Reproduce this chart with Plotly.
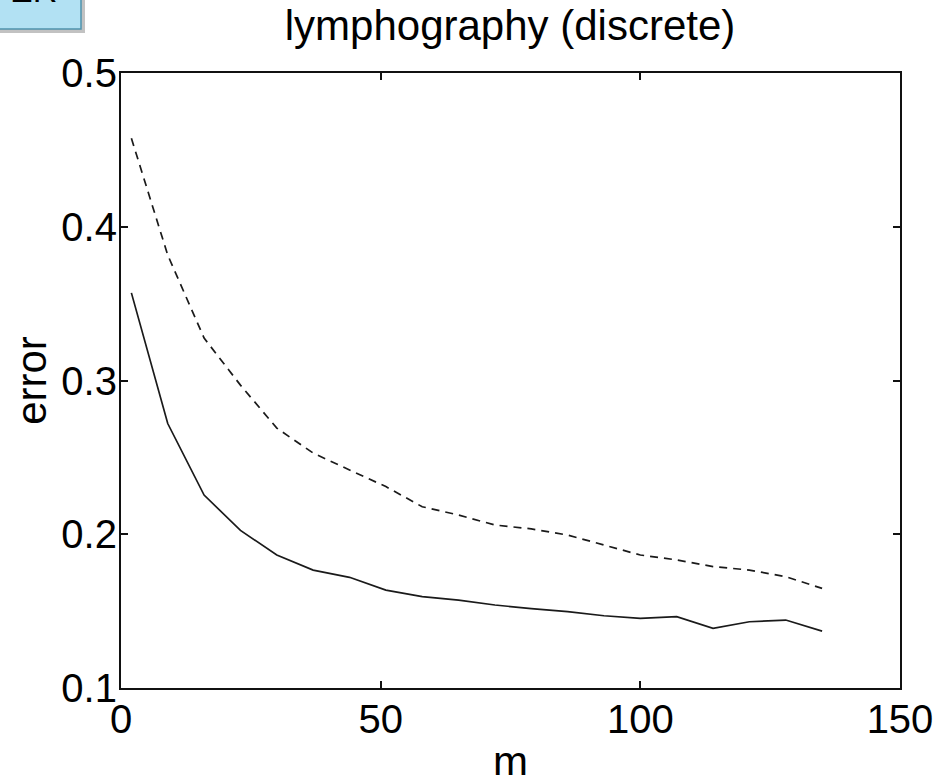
import plotly.graph_objects as go

m_values = [2, 9, 16, 23, 30, 37, 44, 51, 58, 65, 72, 79, 86, 93, 100, 107, 114, 121, 128, 135]
error_solid = [0.357, 0.272, 0.2255, 0.2025, 0.1865, 0.1767, 0.172, 0.1637, 0.1594, 0.1572,
               0.154, 0.1516, 0.1497, 0.147, 0.1453, 0.1464, 0.1388, 0.1431, 0.1442, 0.137]
error_dashed = [0.4575, 0.3816, 0.3276, 0.297, 0.269, 0.2528, 0.2418, 0.231, 0.2179, 0.2125,
                0.206, 0.2035, 0.1995, 0.193, 0.1865, 0.1833, 0.179, 0.1767, 0.1724, 0.1648]
title_text = "lymphography (discrete)"
x_title = "m"
y_title = "error"
x_ticks = [0, 50, 100, 150]
y_ticks = [0.1, 0.2, 0.3, 0.4, 0.5]

FONT = "Liberation Sans, Arial, Helvetica, sans-serif"

fig = go.Figure()
fig.add_trace(go.Scatter(x=m_values, y=error_dashed, mode="lines",
                         line=dict(color="#1a1a1a", width=1.7, dash="8px,6px"),
                         showlegend=False))
fig.add_trace(go.Scatter(x=m_values, y=error_solid, mode="lines",
                         line=dict(color="#1a1a1a", width=1.7),
                         showlegend=False))

W, H = 949, 775
L, R, T, B = 121, 900, 73, 688

def px(x):
    return (x - L) / (R - L)

def py(y):
    return (B - y) / (B - T)

axis_common = dict(showline=True, linecolor="#111", linewidth=2.2, mirror="ticks",
                   ticks="inside", ticklen=7, tickwidth=1.5, tickcolor="#111",
                   showgrid=False, zeroline=False, automargin=False,
                   tickfont=dict(family=FONT, size=40, color="#000"))

fig.update_xaxes(range=[0, 150], tickvals=x_ticks, ticklabelstandoff=-5, **axis_common)
fig.update_yaxes(range=[0.1, 0.5], tickvals=y_ticks, tickformat=".1f",
                 title=dict(text=y_title, font=dict(family=FONT, size=42, color="#000"), standoff=2),
                 ticklabelstandoff=-6, **axis_common)

# x-axis title placed as annotation (axis title is clamped inside the margin)
fig.add_annotation(text=x_title, xref="paper", yref="paper", x=px(510), y=py(761),
                   xanchor="center", yanchor="middle", showarrow=False,
                   font=dict(family=FONT, size=42, color="#000"))

# Light blue label box cut off at the top-left corner
fig.add_shape(type="rect", xref="paper", yref="paper",
              x0=px(-20), x1=px(85), y0=py(33), y1=py(-10),
              fillcolor="rgba(120,120,120,0.45)", line=dict(width=0), layer="above")
fig.add_shape(type="rect", xref="paper", yref="paper",
              x0=px(-20), x1=px(81), y0=py(29), y1=py(-10),
              fillcolor="#b2e1f3", line=dict(color="#4f93ad", width=1.5), layer="above")
fig.add_annotation(text="ER", xref="paper", yref="paper", x=px(33), y=py(11),
                   xanchor="center", yanchor="bottom", showarrow=False,
                   font=dict(family=FONT, size=34, color="#000"))

fig.update_layout(
    width=W, height=H,
    margin=dict(l=L, r=W - R, t=T, b=H - B, autoexpand=False),
    paper_bgcolor="white", plot_bgcolor="white",
    title=dict(text=title_text, x=px(510), xref="paper", xanchor="center",
               y=1 - 25 / H, yanchor="middle", automargin=False,
               font=dict(family=FONT, size=42, color="#000")),
)

fig.write_html("out.html", config={"displayModeBar": False},
               post_script="document.body.style.margin='0';document.body.style.overflow='hidden';")
